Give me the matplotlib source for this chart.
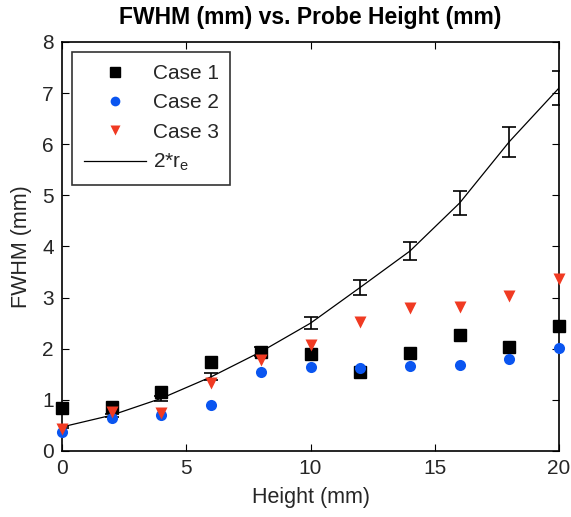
import numpy as np
import matplotlib
matplotlib.use("Agg")
import matplotlib.pyplot as plt
from matplotlib.lines import Line2D

plt.rcParams['font.family'] = ['Liberation Sans', 'DejaVu Sans']
plt.rcParams['mathtext.fontset'] = 'custom'
plt.rcParams['mathtext.rm'] = 'Liberation Sans'
plt.rcParams['mathtext.it'] = 'Liberation Sans'

height = [0, 2, 4, 6, 8, 10, 12, 14, 16, 18, 20]

case1 = [0.84, 0.87, 1.15, 1.74, 1.94, 1.89, 1.54, 1.92, 2.27, 2.04, 2.44]
case2 = [0.37, 0.65, 0.71, 0.89, 1.54, 1.65, 1.62, 1.66, 1.68, 1.80, 2.01]
case3 = [0.43, 0.77, 0.74, 1.32, 1.78, 2.08, 2.53, 2.79, 2.82, 3.03, 3.37]

# 2*r_e curve with its spread
re2 = [0.47, 0.70, 1.03, 1.45, 1.94, 2.50, 3.20, 3.91, 4.85, 6.05, 7.10]
re2_err = [0.02, 0.03, 0.05, 0.07, 0.09, 0.12, 0.15, 0.18, 0.23, 0.29, 0.34]

fig = plt.figure(figsize=(5.71, 5.17), dpi=100)
ax = fig.add_axes([0.1086, 0.1277, 0.8704, 0.7911])

ax.errorbar(height, re2, yerr=re2_err, color='black', lw=0.9, elinewidth=1.2,
            capsize=5, capthick=1.2, zorder=2)
ax.plot(height, case1, 's', color='black', ms=8, zorder=3, clip_on=False)
ax.plot(height, case2, 'o', color='#0a55f0', ms=8, mec='none', zorder=3, clip_on=False)
ax.plot(height, case3, 'v', color='#f03a22', ms=8, mec='none', zorder=3, clip_on=False)

ax.set_xlim(0, 20)
ax.set_ylim(0, 8)
ax.set_xticks([0, 5, 10, 15, 20])
ax.set_yticks(range(0, 9))
ax.tick_params(direction='in', top=True, right=True, labelsize=15, length=5, pad=6,
               labelcolor='#262626')
for s in ax.spines.values():
    s.set_linewidth(1.2)

ax.set_xlabel('Height (mm)', fontsize=15.5, color='#262626', labelpad=6)
ax.set_ylabel('FWHM (mm)', fontsize=15.5, color='#262626', labelpad=7)
ax.set_title('FWHM (mm) vs. Probe Height (mm)', fontsize=16.5, fontweight='bold', pad=13)

handles = [
    Line2D([], [], ls='none', marker='s', color='black', ms=7),
    Line2D([], [], ls='none', marker='o', color='#0a55f0', mec='none', ms=7),
    Line2D([], [], ls='none', marker='v', color='#f03a22', mec='none', ms=7),
    Line2D([], [], color='black', lw=0.9),
]
labels = ['Case 1', 'Case 2', 'Case 3', '2*r$_\\mathregular{e}$']
leg = ax.legend(handles, labels, loc='upper left', fontsize=15, frameon=True,
                fancybox=False, edgecolor='black', borderaxespad=0.5,
                handlelength=3.0, handletextpad=0.3, labelspacing=0.5,
                borderpad=0.55)
leg.get_frame().set_linewidth(1.2)
for t in leg.get_texts():
    t.set_color('#262626')

fig.savefig('out.png', dpi=100)
